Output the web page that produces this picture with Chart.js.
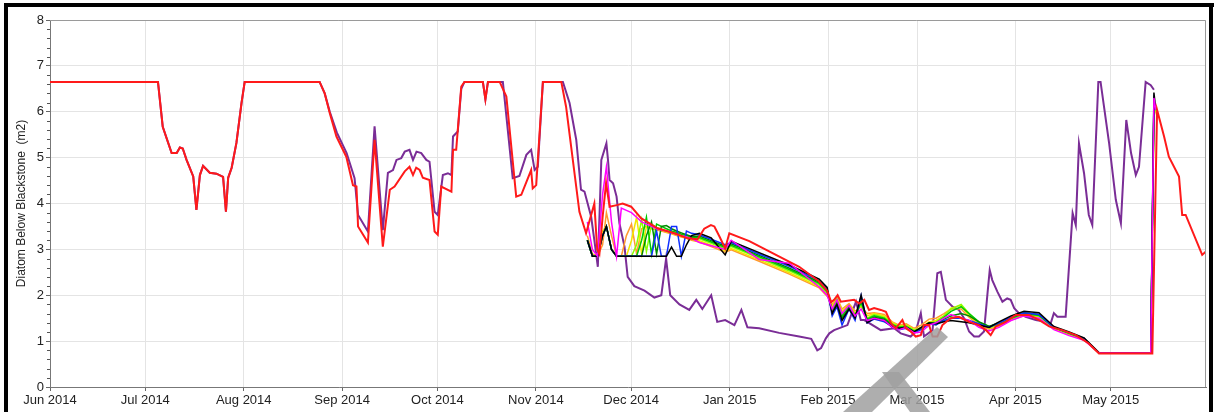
<!DOCTYPE html>
<html>
<head>
<meta charset="utf-8">
<script src="https://cdn.jsdelivr.net/npm/chart.js@4.4.1/dist/chart.umd.min.js"></script>
<style>
html,body{margin:0;padding:0;background:#fff;}
canvas{display:block;}
</style>
</head>
<body>
<canvas id="c" width="1221" height="412"></canvas>
<script>
// x values are days since 1 Jun 2014
const monthDays = [0, 30, 61, 92, 122, 153, 183, 214, 245, 273, 304, 334];
const monthLabels = ["Jun 2014","Jul 2014","Aug 2014","Sep 2014","Oct 2014","Nov 2014","Dec 2014","Jan 2015","Feb 2015","Mar 2015","Apr 2015","May 2015"];
const yTicks = [0,1,2,3,4,5,6,7,8];

const redDays = [0,34,35.5,38.3,39.9,40.9,41.8,43,45.1,46.1,47.2,48.2,50.3,52.4,54.5,55.4,56.1,57.2,58.7,60.3,61.3,84.9,86.5,88.1,90.2,93.3,95.4,96.5,97,100.1,102.2,104.8,107,108.5,111.7,113.2,114.3,115.3,116.4,117.4,119.5,121.1,122.1,123.2,126.4,126.9,127.9,129.5,130.5,136.3,137.1,137.9,141.6,143.7,146.8,148.4,151.5,152,153.1,155.2,161,162.5,166.7,168.8,171.4,172.3,173.0,174.0,175.1,176.2,178.8,180.3,183.0,186.1,191.3,196.6,200.8,203.9,206.0,208.1,209.2,210.8,212.6,213.9,220.2,235.9,242.2,244.7,246.0,246.9,248.0,249.0,253.2,254.8,256.4,257.9,259.5,261.6,263.2,264.8,266.3,268.4,269.5,271.0,272.6,274.2,275.2,276.8,277.9,279.4,281.0,283.6,286.2,289.4,292.5,294.7,296.2,297.8,300.9,304.1,308.3,311.4,314.6,318.7,323.0,327.1,330.3,347.1,348.6,350.8,352.3,355.5,356.5,357.6,362.8,363.9];
const redVals = [6.65,6.65,5.67,5.1,5.1,5.22,5.2,4.95,4.59,3.86,4.62,4.82,4.67,4.65,4.58,3.82,4.56,4.78,5.32,6.19,6.65,6.65,6.4,5.97,5.46,5.02,4.4,4.37,3.5,3.15,5.39,3.06,4.3,4.37,4.7,4.8,4.62,4.78,4.73,4.56,4.51,3.39,3.32,4.37,4.26,5.17,5.17,6.55,6.65,6.65,6.27,6.65,6.65,6.33,4.15,4.19,4.73,4.33,4.4,6.65,6.65,6.11,3.82,3.35,4.0,3.0,2.9,3.7,4.45,3.93,3.97,4.0,3.93,3.68,3.46,3.35,3.24,3.22,3.45,3.53,3.5,3.28,3.02,3.35,3.18,2.62,2.3,2.1,1.85,1.9,2.0,1.86,1.9,1.82,1.9,1.68,1.72,1.68,1.64,1.39,1.28,1.46,1.28,1.21,1.1,1.13,1.35,1.35,1.1,1.1,1.35,1.5,1.53,1.42,1.35,1.24,1.13,1.32,1.42,1.57,1.57,1.46,1.32,1.24,1.13,0.95,0.73,0.73,6.04,5.46,5.02,4.59,3.75,3.75,2.88,2.95];

const purpleDays = [0,34,35.5,38.3,39.9,40.9,41.8,43,45.1,46.1,47.2,48.2,50.3,52.4,54.5,55.4,56.1,57.2,58.7,60.3,61.3,84.9,86.5,88.1,90.3,93.4,95.9,97.0,100.1,102.2,104.8,106.4,108.0,109.1,110.6,111.7,113.2,114.3,115.4,116.9,118.5,119.5,121.1,122.1,123.7,125.3,126.4,126.9,128.4,129.5,130.5,136.3,137.1,137.9,142.6,145.7,147.8,150.0,151.5,152.6,153.6,155.2,161.5,163.6,165.7,167.2,168.3,170.4,171.4,172.5,173.6,175.2,175.7,176.2,177.3,178.4,179.3,180.9,181.9,184.0,187.2,190.3,192.5,194.0,195.3,198.2,201.3,203.5,205.4,208.2,210.1,212.6,215.5,217.7,219.6,223.3,229.6,235.9,239.7,241.6,242.8,244.3,245.4,246.9,251.1,253.8,255.3,256.4,261.6,265.8,267.9,271.0,272.6,274.2,275.2,277.9,279.4,280.5,282.1,284.2,286.2,287.8,289.4,291.0,292.5,294.1,295.2,295.9,296.7,298.3,299.9,301.4,302.5,303.6,305.1,307.2,310.4,313.5,315.1,316.1,317.2,319.8,322.0,323.0,324.0,325.6,327.1,328.2,330.1,330.8,333.5,335.6,337.2,338.9,340.4,341.9,342.9,345.0,346.6,347.6];
const purpleVals = [6.65,6.65,5.67,5.1,5.1,5.22,5.2,4.95,4.59,3.86,4.62,4.82,4.67,4.65,4.58,3.82,4.56,4.78,5.32,6.19,6.65,6.65,6.4,6.0,5.55,5.1,4.55,3.75,3.39,5.68,3.42,4.67,4.73,4.95,4.99,5.13,5.17,4.95,5.13,5.1,4.95,4.91,3.82,3.75,4.62,4.66,4.62,5.46,5.57,6.5,6.65,6.65,6.27,6.65,6.65,4.55,4.6,5.06,5.17,4.73,4.8,6.65,6.65,6.19,5.39,4.3,4.26,3.71,3.2,2.62,4.95,5.31,4.95,4.51,4.44,4.15,3.57,3.06,2.4,2.2,2.1,1.95,2.0,2.8,2.0,1.8,1.68,1.9,1.7,2.0,1.42,1.46,1.35,1.68,1.3,1.28,1.18,1.1,1.05,0.8,0.85,1.06,1.17,1.24,1.35,1.86,1.46,1.46,1.24,1.28,1.17,1.1,1.21,1.61,1.1,1.24,2.48,2.51,1.9,1.75,1.68,1.5,1.21,1.1,1.1,1.21,2.04,2.55,2.33,2.08,1.86,1.93,1.9,1.72,1.61,1.53,1.46,1.42,1.39,1.61,1.53,1.53,3.79,3.53,5.31,4.66,3.75,3.53,6.65,6.65,5.31,4.08,3.57,5.82,5.1,4.62,4.8,6.65,6.58,6.48];

// ensemble members share these days
const ensDays = [169.2,170.8,172.4,174.0,175.2,176.8,178.4,179.9,181.5,183.1,184.7,186.3,187.8,189.4,191.0,192.5,194.1,195.7,197.3,198.8,200.4,202.0,204.5,208.2,212.6,214.5,223.3,232.8,242.2,244.7,246.3,247.8,249.4,251.6,253.5,255.4,257.3,259.5,262.7,265.2,267.4,269.6,272.1,274.3,276.8,279.0,281.5,283.7,286.9,289.4,292.5,295.7,298.8,302.6,306.7,311.4,316.1,320.9,325.6,330.3,346.6,347.6,348.2];
const blackVals = [3.2,2.85,2.85,3.3,3.5,3.0,2.85,2.85,2.85,2.85,2.85,2.85,2.85,2.85,2.85,2.85,2.85,3.05,2.85,2.85,3.1,3.3, 3.35,3.25,2.88,3.18,2.93,2.66,2.35,2.17,1.6,1.8,1.45,1.7,1.5,2.0,1.4,1.5,1.45,1.3,1.28,1.3,1.2,1.3,1.4,1.38,1.42,1.45,1.42,1.4,1.35,1.3,1.42,1.55,1.65,1.62,1.32,1.2,1.07,0.75,0.74,6.42,6.04];
const blueVals = [3.2,2.85,2.85,3.3,3.5,3.0,2.85,2.85,2.85,2.85,2.85,2.85,2.85,2.85,3.4,2.85,2.85,3.5,3.5,2.85,3.4,3.35, 3.32,3.22,3.1,3.15,2.9,2.63,2.32,2.14,1.55,1.75,1.35,1.7,1.45,2.0,1.4,1.48,1.42,1.32,1.25,1.28,1.18,1.25,1.38,1.36,1.45,1.5,1.5,1.45,1.38,1.3,1.4,1.52,1.62,1.58,1.3,1.18,1.06,0.74,0.74,6.25,6.04];
const darkGreenVals = [3.2,2.85,2.85,3.3,3.5,3.0,2.85,2.85,2.85,2.85,2.85,2.85,3.3,3.6,2.9,3.5,3.52,3.45,3.4,3.36,3.32,3.28, 3.29,3.19,3.07,3.12,2.87,2.59,2.29,2.11,1.62,1.82,1.5,1.72,1.52,1.9,1.45,1.52,1.48,1.34,1.28,1.3,1.2,1.26,1.38,1.36,1.48,1.55,1.6,1.55,1.42,1.32,1.4,1.52,1.62,1.58,1.3,1.18,1.06,0.74,0.74,6.2,6.04];
const greenVals = [3.2,2.85,2.85,3.3,3.5,3.0,2.85,2.85,2.85,2.85,2.85,3.2,3.7,2.9,3.55,3.5,3.45,3.4,3.37,3.33,3.3,3.26, 3.26,3.16,3.04,3.09,2.84,2.56,2.26,2.08,1.65,1.88,1.55,1.75,1.55,1.85,1.48,1.55,1.5,1.36,1.3,1.32,1.22,1.27,1.4,1.4,1.52,1.65,1.75,1.6,1.42,1.32,1.38,1.5,1.6,1.56,1.3,1.17,1.05,0.74,0.74,6.1,6.04];
const limeVals = [3.2,2.85,2.85,3.3,3.5,3.0,2.85,2.85,2.85,2.85,3.1,3.65,2.95,3.55,3.48,3.44,3.4,3.37,3.33,3.3,3.27,3.24, 3.23,3.13,3.01,3.06,2.81,2.53,2.23,2.05,1.7,1.92,1.6,1.78,1.58,1.8,1.5,1.58,1.52,1.38,1.32,1.34,1.24,1.28,1.4,1.42,1.55,1.7,1.8,1.6,1.4,1.3,1.36,1.48,1.58,1.55,1.29,1.16,1.05,0.74,0.74,6.0,6.04];
const yellowVals = [3.2,2.85,2.9,3.4,3.5,3.0,2.85,2.85,2.85,3.2,3.7,2.9,3.5,3.5,3.45,3.42,3.38,3.35,3.32,3.28,3.25,3.22, 3.19,3.09,2.97,3.02,2.77,2.49,2.19,2.01,1.75,1.95,1.65,1.8,1.6,1.78,1.55,1.6,1.55,1.4,1.33,1.35,1.25,1.3,1.42,1.45,1.55,1.72,1.78,1.55,1.38,1.28,1.35,1.47,1.57,1.54,1.28,1.15,1.04,0.74,0.74,6.0,6.04];
const orangeVals = [3.3,2.9,2.85,3.1,3.8,3.3,2.85,2.85,3.3,3.55,2.9,3.45,3.5,3.45,3.42,3.4,3.37,3.34,3.3,3.27,3.24,3.2, 3.16,3.06,2.94,2.99,2.74,2.46,2.16,1.98,1.8,1.95,1.7,1.82,1.65,1.75,1.6,1.62,1.58,1.42,1.35,1.38,1.28,1.35,1.48,1.5,1.6,1.7,1.7,1.52,1.35,1.26,1.33,1.46,1.56,1.53,1.27,1.14,1.03,0.74,0.74,5.9,6.04];
const magentaVals = [3.6,3.0,2.85,4.2,4.8,3.6,2.85,3.9,3.85,3.8,3.7,3.6,3.55,3.5,3.45,3.42,3.4,3.36,3.33,3.3,3.27,3.24, 3.15,3.08,3.0,3.2,2.78,2.7,2.18,2.0,1.7,1.9,1.6,1.78,1.55,1.7,1.45,1.5,1.45,1.3,1.25,1.3,1.18,1.2,1.35,1.4,1.5,1.58,1.5,1.45,1.3,1.22,1.3,1.45,1.55,1.5,1.25,1.12,1.02,0.74,0.74,6.3,6.04];

function pts(days, vals){ return days.map((d,i)=>({x:d, y:vals[i]})); }
function ds(label, days, vals, color, w){
  return {label, data: pts(days, vals), borderColor: color, borderWidth: w, pointRadius: 0, tension: 0, fill: false};
}

const framePlugin = {
  id: 'frame',
  beforeDraw(chart){
    const ctx = chart.ctx;
    ctx.save();
    ctx.fillStyle = '#fff';
    ctx.fillRect(0,0,chart.width,chart.height);
    ctx.restore();
  },
  afterDatasetsDraw(chart){
    const ctx = chart.ctx;
    const y = chart.scales.y;
    const a = chart.chartArea;
    ctx.save();
    ctx.strokeStyle = '#9a9a9a';
    ctx.lineWidth = 1;
    ctx.beginPath();
    ctx.moveTo(a.left, a.top + 0.5); ctx.lineTo(a.right - 0.5, a.top + 0.5); ctx.lineTo(a.right - 0.5, a.bottom);
    ctx.stroke();
    ctx.strokeStyle = '#555';
    ctx.beginPath();
    for (let i = 0; i < yTicks.length - 1; i++) {
      for (let k = 1; k < 5; k++) {
        const py = Math.round(y.getPixelForValue(yTicks[i] + k * 0.2)) + 0.5;
        ctx.moveTo(a.left - 3, py); ctx.lineTo(a.left, py);
      }
    }
    ctx.stroke();
    ctx.restore();
  },
  afterDraw(chart){
    const ctx = chart.ctx;
    ctx.save();
    ctx.fillStyle = 'rgba(160,160,160,0.85)';
    ctx.beginPath();
    ctx.moveTo(843,412); ctx.lineTo(872,412); ctx.lineTo(948,337); ctx.lineTo(937,327);
    ctx.closePath(); ctx.fill();
    ctx.beginPath();
    ctx.moveTo(882,372); ctx.lineTo(899,372); ctx.lineTo(930,412); ctx.lineTo(910,412);
    ctx.closePath(); ctx.fill();
    ctx.fillStyle = '#000';
    ctx.fillRect(4,3,1210,4);
    ctx.fillRect(4,3,4,409);
    ctx.fillRect(1209,3,4,409);
    ctx.restore();
  }
};

new Chart(document.getElementById('c'), {
  type: 'line',
  data: {
    datasets: [
      ds('Red', redDays, redVals, '#ff1a1a', 2),
      ds('Magenta', ensDays, magentaVals, '#ff00ff', 1.5),
      ds('Black', ensDays, blackVals, '#000000', 1.5),
      ds('Blue', ensDays, blueVals, '#1030ff', 1.5),
      ds('Dark green', ensDays, darkGreenVals, '#008a00', 1.5),
      ds('Green', ensDays, greenVals, '#00cc00', 1.5),
      ds('Lime', ensDays, limeVals, '#8cff00', 1.5),
      ds('Yellow', ensDays, yellowVals, '#f2e600', 1.5),
      ds('Orange', ensDays, orangeVals, '#ff9a2e', 1.5),
      ds('Purple', purpleDays, purpleVals, '#7a2d96', 2)
    ]
  },
  options: {
    responsive: false,
    animation: false,
    devicePixelRatio: 1,
    layout: { padding: { left: 0, right: 15, top: 20, bottom: 0 } },
    plugins: { legend: { display: false }, tooltip: { enabled: false } },
    scales: {
      x: {
        type: 'linear', min: 0, max: 364,
        afterBuildTicks: (s) => { s.ticks = monthDays.map(v => ({ value: v })); },
        afterFit: (s) => { s.height = 25; },
        ticks: {
          autoSkip: false, maxRotation: 0, padding: 2,
          color: '#222', font: { family: 'Liberation Sans, Arial', size: 13 },
          callback: (v) => { const i = monthDays.indexOf(v); return i >= 0 ? monthLabels[i] : ''; }
        },
        grid: { color: '#e4e4e4', tickLength: 4, tickColor: '#666' },
        border: { color: '#777', width: 1 }
      },
      y: {
        min: 0, max: 8,
        afterBuildTicks: (s) => { s.ticks = yTicks.map(v => ({ value: v })); },
        afterFit: (s) => { s.width = 50; },
        ticks: { padding: 2, color: '#222', font: { family: 'Liberation Sans, Arial', size: 13 } },
        grid: { color: '#e4e4e4', tickLength: 4, tickColor: '#666' },
        border: { color: '#777', width: 1 },
        title: {
          display: true, text: 'Diatom Below Blackstone  (m2)',
          color: '#222', font: { family: 'Liberation Sans, Arial', size: 12 },
          padding: { top: 14, bottom: 0 }
        }
      }
    }
  },
  plugins: [framePlugin]
});
</script>
</body>
</html>
